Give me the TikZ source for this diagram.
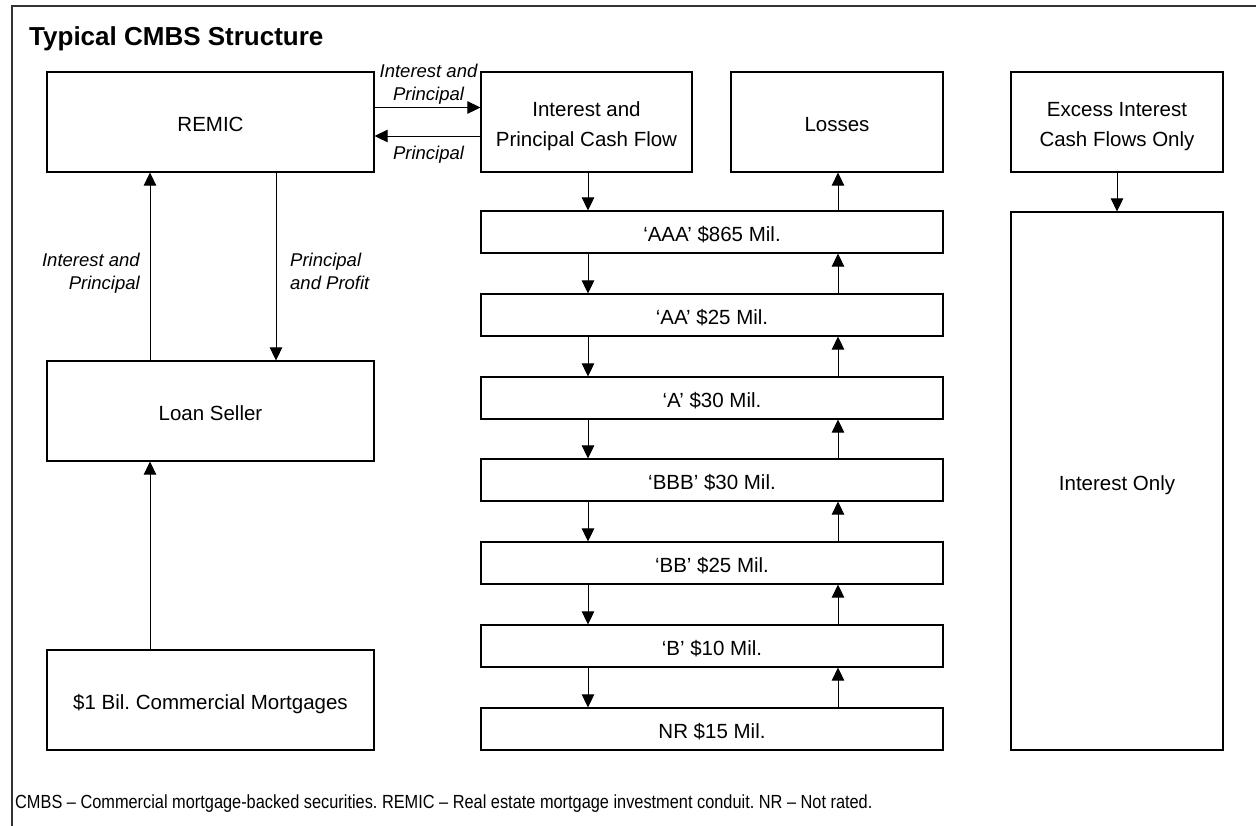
\documentclass[tikz,border=0pt]{standalone}
\usepackage{fontspec}
\setmainfont{Liberation Sans}
\usetikzlibrary{arrows.meta}
\newcommand{\fsz}[2]{\fontsize{#1}{#2}\selectfont}
\frenchspacing
\begin{document}
\frenchspacing
\begin{tikzpicture}[x=1pt,y=-1pt,
  box/.style={draw, line width=1.2pt, rectangle, inner sep=0pt, align=center,
    font=\fsz{20.5}{30}, text height=19pt, text depth=0pt},
  box2/.style={box, text height=49pt},
  arr/.style={line width=1pt, -{Triangle[length=13pt,width=12.5pt]}},
  lbl/.style={font=\fsz{18.5}{22.6}\itshape, inner sep=0pt},
]
\useasboundingbox (0,0) rectangle (1256,825);
\fill[white] (0,0) rectangle (1256,825);
% frame
\draw[line width=1.3pt, black!80] (12,840) -- (12,6) -- (1270,6);
% title
\node[font=\fsz{26}{30}\bfseries, anchor=base west, inner sep=0pt] (title) at (29,45) {Typical CMBS Structure};
% top row
\node[box, minimum width=327pt, minimum height=100pt] (remic) at (210.5,122) {REMIC};
\node[box2, minimum width=211pt, minimum height=100pt] (icf) at (586.5,122)
  {\begin{tabular}[b]{@{}c@{}}Interest and\\Principal Cash Flow\end{tabular}};
\node[box, minimum width=212pt, minimum height=100pt] (loss) at (837,122) {Losses};
\node[box2, minimum width=212pt, minimum height=100pt] (excess) at (1117,122)
  {\begin{tabular}[b]{@{}c@{}}Excess Interest\\Cash Flows Only\end{tabular}};
% tranches
\node[box, minimum width=462pt, minimum height=42pt] (t1) at (712,232) {‘AAA’ \$865 Mil.};
\node[box, minimum width=462pt, minimum height=42pt] (t2) at (712,315) {‘AA’ \$25 Mil.};
\node[box, minimum width=462pt, minimum height=42pt] (t3) at (712,398) {‘A’ \$30 Mil.};
\node[box, minimum width=462pt, minimum height=42pt] (t4) at (712,480) {‘BBB’ \$30 Mil.};
\node[box, minimum width=462pt, minimum height=42pt] (t5) at (712,563) {‘BB’ \$25 Mil.};
\node[box, minimum width=462pt, minimum height=42pt] (t6) at (712,646) {‘B’ \$10 Mil.};
\node[box, minimum width=462pt, minimum height=42pt] (t7) at (712,729) {NR \$15 Mil.};
\node[box, minimum width=212pt, minimum height=538pt] (io) at (1117,481) {Interest Only};
% left column
\node[box, minimum width=327pt, minimum height=100pt] (seller) at (210.5,411) {Loan Seller};
\node[box, minimum width=327pt, minimum height=100pt] (mort) at (210.5,700) {\$1 Bil. Commercial Mortgages};
% helper coordinates
\coordinate (lx) at (150,0);
\coordinate (rx) at (276,0);
\coordinate (ya) at (0,107.5);
\coordinate (yb) at (0,136);
\coordinate (dx) at (588,0);
\coordinate (ux) at (838,0);
% left arrows
\draw[arr] (seller.north -| lx) -- (remic.south -| lx);
\draw[arr] (remic.south -| rx) -- (seller.north -| rx);
\draw[arr] (mort.north -| lx) -- (seller.south -| lx);
% REMIC <-> ICF
\draw[arr] (remic.east |- ya) -- (icf.west |- ya);
\draw[arr] (icf.west |- yb) -- (remic.east |- yb);
% down cascade
\draw[arr] (icf.south -| dx) -- (t1.north -| dx);
\foreach \a/\b in {t1/t2,t2/t3,t3/t4,t4/t5,t5/t6,t6/t7}
  \draw[arr] (\a.south -| dx) -- (\b.north -| dx);
% up cascade (losses)
\draw[arr] (t1.north -| ux) -- (loss.south -| ux);
\foreach \a/\b in {t1/t2,t2/t3,t3/t4,t4/t5,t5/t6,t6/t7}
  \draw[arr] (\b.north -| ux) -- (\a.south -| ux);
% excess -> IO
\draw[arr] (excess.south) -- (io.north);
% labels
\node[lbl, anchor=base] (lab1) at (428.5,100)
  {\begin{tabular}[b]{@{}c@{}}Interest and\\Principal\end{tabular}};
\node[lbl, anchor=base] (lab2) at (428.5,159.3) {Principal};
\node[lbl, anchor=base east] (lab3) at (140,289.3)
  {\begin{tabular}[b]{@{}r@{}}Interest and\\Principal\end{tabular}};
\node[lbl, anchor=base west] (lab4) at (290,289.3)
  {\begin{tabular}[b]{@{}l@{}}Principal\\and Profit\end{tabular}};
% footnote
\node[font=\fsz{19}{22}, anchor=base west, inner sep=0pt] (note) at (15,808)
  {\scalebox{0.86}[1]{CMBS – Commercial mortgage-backed securities. REMIC – Real estate mortgage investment conduit. NR – Not rated.}};
\end{tikzpicture}
\end{document}
